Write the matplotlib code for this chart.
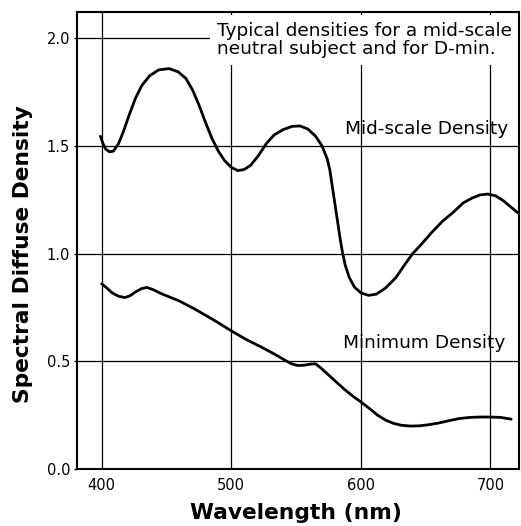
import matplotlib
matplotlib.use("Agg")
import matplotlib.pyplot as plt

# values (wavelength in nm, density)
mid_wl = [399, 401, 403, 406, 409, 413, 417, 421, 426, 431,
          437, 444, 452, 459, 465, 470, 475, 480, 485, 490,
          495, 500, 505, 510, 515, 521, 527, 533, 540, 547,
          553, 559, 565, 570, 574, 576, 578, 580, 582, 584,
          586, 588, 591, 595, 600, 606, 612, 619, 627, 634,
          640, 647, 655, 663, 671, 679, 686, 692, 698, 704,
          710, 716, 722]
mid_d = [1.544, 1.510, 1.485, 1.472, 1.475, 1.510, 1.570, 1.640, 1.720, 1.780,
         1.825, 1.852, 1.858, 1.843, 1.812, 1.760, 1.690, 1.610, 1.535, 1.475,
         1.430, 1.400, 1.385, 1.390, 1.410, 1.455, 1.510, 1.550, 1.575, 1.590,
         1.592, 1.578, 1.545, 1.500, 1.440, 1.390, 1.310, 1.230, 1.150, 1.070,
         1.000, 0.945, 0.890, 0.845, 0.818, 0.806, 0.812, 0.840, 0.888, 0.950,
         1.000, 1.045, 1.100, 1.150, 1.190, 1.235, 1.258, 1.272, 1.276, 1.268,
         1.245, 1.215, 1.185]

min_wl = [400, 404, 408, 413, 418, 422, 426, 431, 435, 440,
          446, 460, 472, 487, 501, 512, 523, 533, 541, 546,
          551, 556, 561, 565, 569, 574, 580, 587, 594, 600,
          607, 613, 619, 625, 631, 638, 645, 652, 660, 668,
          676, 684, 692, 700, 708, 716]
min_d = [0.860, 0.840, 0.818, 0.802, 0.796, 0.805, 0.822, 0.838, 0.843, 0.832,
         0.814, 0.780, 0.742, 0.690, 0.638, 0.600, 0.567, 0.535, 0.507, 0.490,
         0.481, 0.482, 0.487, 0.489, 0.470, 0.443, 0.410, 0.372, 0.338, 0.312,
         0.280, 0.250, 0.228, 0.213, 0.204, 0.200, 0.201, 0.206, 0.214, 0.225,
         0.235, 0.240, 0.242, 0.242, 0.240, 0.232]

x_ticks = [400, 500, 600, 700]
y_ticks = [0.0, 0.5, 1.0, 1.5, 2.0]

plt.rcParams['font.family'] = ['DejaVu Sans']

fig = plt.figure(figsize=(5.21, 5.26), dpi=100)
ax = fig.add_axes([0.148, 0.108, 0.848, 0.869])

ax.plot(mid_wl, mid_d, color='black', lw=2.0, solid_joinstyle='round',
        solid_capstyle='round', zorder=4)
ax.plot(min_wl, min_d, color='black', lw=2.0, solid_joinstyle='round',
        solid_capstyle='round', zorder=4)

ax.set_xlim(381, 722)
ax.set_ylim(0, 2.12)
ax.set_xticks(x_ticks)
ax.set_yticks(y_ticks)
ax.set_yticklabels(['%.1f' % v for v in y_ticks])
ax.grid(True, color='black', lw=0.9)
ax.set_axisbelow(True)
ax.tick_params(axis='x', length=0, pad=6, labelsize=10.5)
ax.tick_params(axis='y', length=2, width=1, pad=3, labelsize=10.5)
for sp in ax.spines.values():
    sp.set_linewidth(1.5)

ax.set_xlabel('Wavelength (nm)', fontsize=15.7, fontweight='bold')
ax.xaxis.set_label_coords(0.495, -0.075)
ax.set_ylabel('Spectral Diffuse Density', fontsize=15.7, fontweight='bold')
ax.yaxis.set_label_coords(-0.10, 0.47)

# white box hides the grid behind the note, but stays under the spines
ax.text(489, 1.99, 'Typical densities for a mid-scale\nneutral subject and for D-min.',
        fontsize=13.3, ha='left', va='center', linespacing=0.95, zorder=2,
        bbox=dict(boxstyle='square,pad=0.4', facecolor='white', edgecolor='none'))
ax.text(588, 1.58, 'Mid-scale Density', fontsize=13.3, ha='left', va='center')
ax.text(586, 0.586, 'Minimum Density', fontsize=13.3, ha='left', va='center')

fig.savefig('out.png', dpi=100)
